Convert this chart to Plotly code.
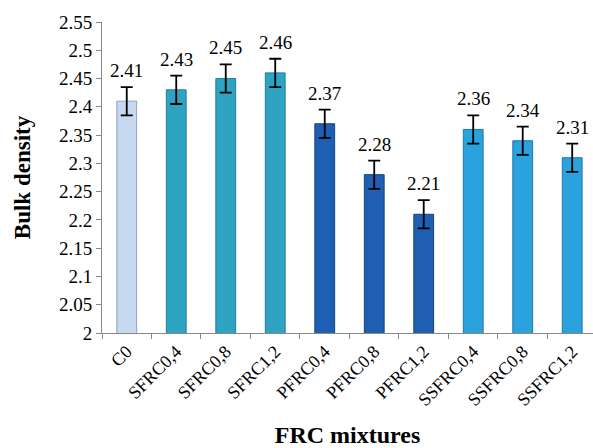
import plotly.graph_objects as go

categories = ["C0", "SFRC0,4", "SFRC0,8", "SFRC1,2", "PFRC0,4", "PFRC0,8",
              "PFRC1,2", "SSFRC0,4", "SSFRC0,8", "SSFRC1,2"]
values = [2.41, 2.43, 2.45, 2.46, 2.37, 2.28, 2.21, 2.36, 2.34, 2.31]
errors = [0.025] * 10
colors = ["#c6d9f0", "#2fa3c2", "#2fa3c2", "#2fa3c2", "#1e5fb3", "#1e5fb3",
          "#1e5fb3", "#2aa2dd", "#2aa2dd", "#2aa2dd"]
outline = ["#8ea3bd", "#1f7f99", "#1f7f99", "#1f7f99", "#17417a", "#17417a",
           "#17417a", "#1d78a8", "#1d78a8", "#1d78a8"]

font = "Liberation Serif, Times New Roman, serif"

fig = go.Figure()
fig.add_trace(go.Bar(
    x=categories, y=values, width=0.4,
    marker=dict(color=colors, line=dict(color=outline, width=1)),
    error_y=dict(type="data", array=errors, color="black", thickness=1.8, width=6),
    showlegend=False,
))
for c, v, e in zip(categories, values, errors):
    fig.add_annotation(x=c, y=v + e, text=f"{v:.2f}", showarrow=False,
                       yanchor="bottom", yshift=4,
                       font=dict(family=font, size=19, color="black"))

fig.update_layout(
    width=593, height=448,
    margin=dict(l=102, r=0, t=22, b=115),
    plot_bgcolor="white", paper_bgcolor="white",
    font=dict(family=font, size=18, color="black"),
)
fig.update_yaxes(
    range=[2, 2.55], dtick=0.05, tickformat="~r",
    showgrid=False, showline=True, linecolor="#888888", linewidth=1,
    ticks="outside", ticklen=5, tickcolor="#888888",
    tickfont=dict(family=font, size=19),
    title=dict(text="<b>Bulk density</b>", font=dict(family=font, size=23), standoff=21),
    zeroline=False,
)
fig.update_xaxes(
    range=[-0.5, 9.42],
    showgrid=False, showline=True, linecolor="#888888", linewidth=1,
    ticks="outside", ticklen=5, tickcolor="#888888", tickson="boundaries",
    tickangle=-45, tickfont=dict(family=font, size=18),
    title=dict(text="<b>FRC mixtures</b>", font=dict(family=font, size=24), standoff=18),
)

fig.write_html("out.html", config={"displayModeBar": False},
               post_script="document.body.style.margin='0';")
